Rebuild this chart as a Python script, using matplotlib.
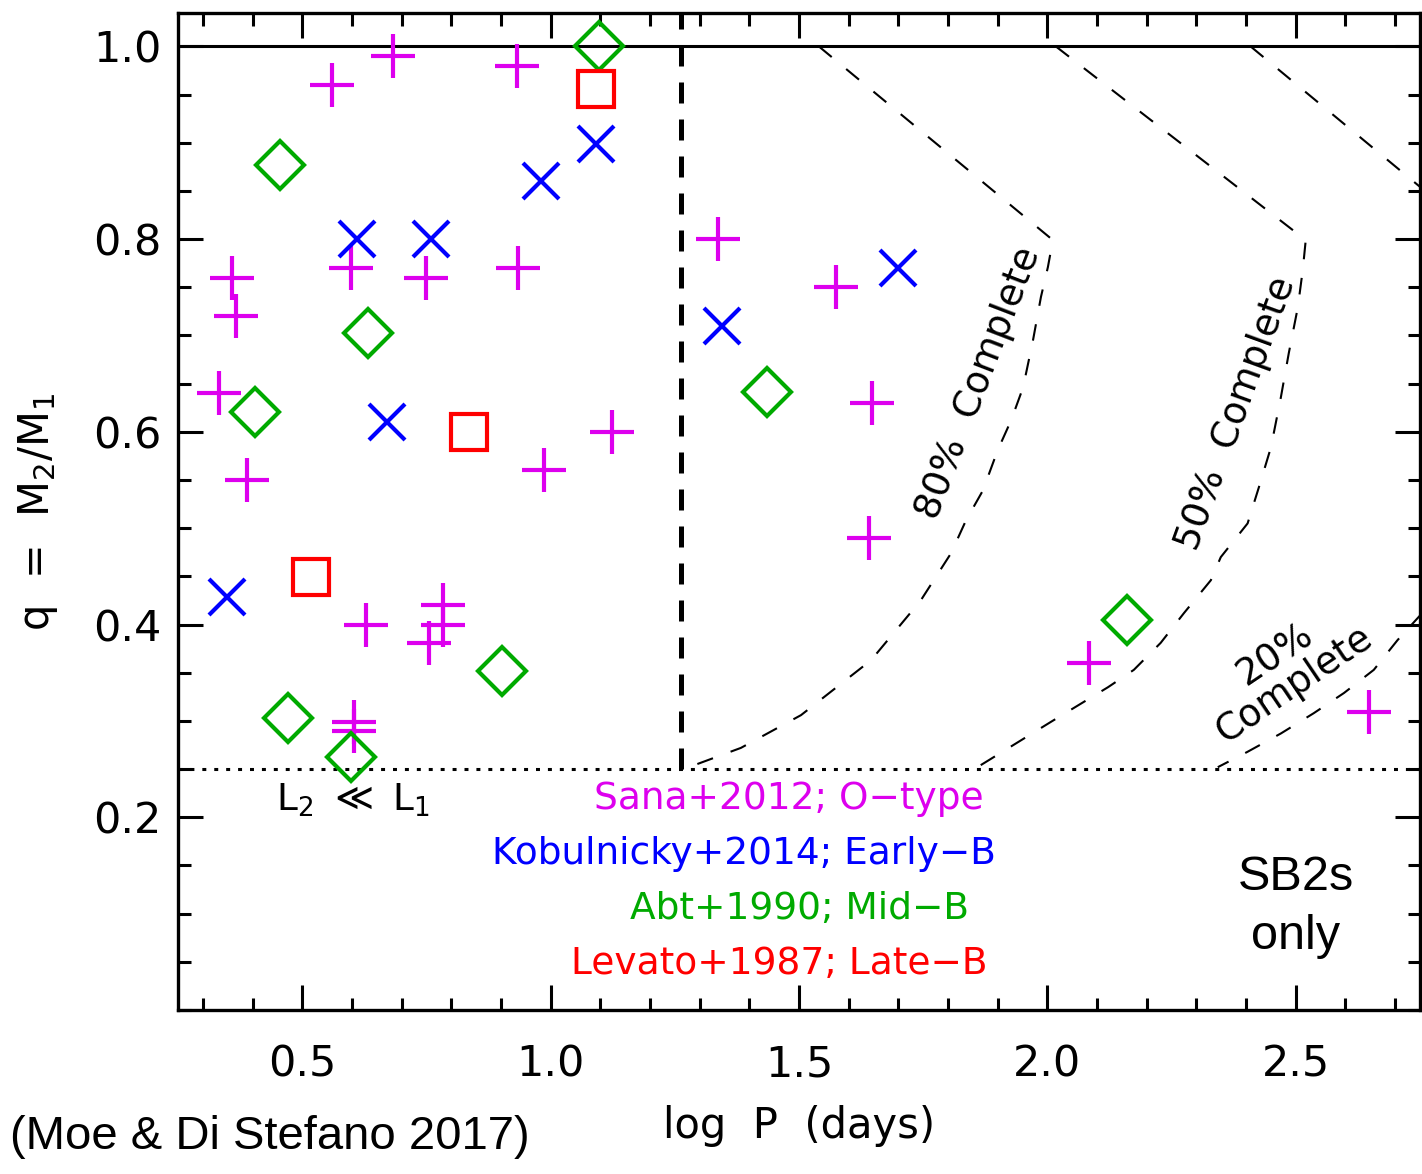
import matplotlib
matplotlib.use("Agg")
import matplotlib.pyplot as plt
from matplotlib.ticker import MultipleLocator
import numpy as np

plt.rcParams['font.family'] = ['DejaVu Sans']
plt.rcParams['mathtext.fontset'] = 'dejavusans'

# Sana+2012 (O-type), pluses
sana_logp = [0.560, 0.683, 0.933, 0.599, 0.749, 0.935, 0.359, 0.367, 0.333, 1.124,
             0.987, 0.389, 0.629, 0.784, 0.784, 0.756, 0.605, 0.605, 1.337, 1.574,
             1.647, 1.641, 2.083, 2.647]
sana_q = [0.960, 0.990, 0.980, 0.770, 0.760, 0.770, 0.760, 0.720, 0.640, 0.600,
          0.560, 0.550, 0.400, 0.420, 0.400, 0.381, 0.299, 0.290, 0.800, 0.750,
          0.630, 0.490, 0.360, 0.309]

# Kobulnicky+2014 (early-B), crosses
kob_logp = [1.092, 0.981, 0.611, 0.760, 0.671, 0.349, 1.345, 1.699]
kob_q = [0.899, 0.860, 0.800, 0.800, 0.610, 0.429, 0.710, 0.770]

# Abt+1990 (mid-B), diamonds
abt_logp = [1.098, 0.456, 0.633, 0.405, 0.902, 0.472, 0.599, 1.436, 2.160]
abt_q = [1.000, 0.877, 0.703, 0.621, 0.352, 0.303, 0.263, 0.641, 0.405]

# Levato+1987 (late-B), squares
lev_logp = [1.092, 0.836, 0.518]
lev_q = [0.956, 0.600, 0.449]

# completeness contours
c80_logp = [1.540, 2.011, 2.001, 1.987, 1.971, 1.951, 1.927, 1.900, 1.870, 1.836,
            1.806, 1.745, 1.645, 1.504, 1.383, 1.273]
c80_q = [1.000, 0.799, 0.771, 0.740, 0.695, 0.646, 0.612, 0.581, 0.539, 0.508,
         0.474, 0.425, 0.363, 0.306, 0.272, 0.251]
c50_logp = [2.017, 2.520, 2.514, 2.504, 2.486, 2.470, 2.450, 2.426, 2.403, 2.349,
            2.329, 2.275, 2.228, 2.174, 2.122, 2.007, 1.856]
c50_q = [1.000, 0.799, 0.768, 0.729, 0.682, 0.636, 0.584, 0.543, 0.505, 0.470,
         0.446, 0.412, 0.381, 0.353, 0.335, 0.299, 0.251]
c20_top_logp = [2.409, 2.760]
c20_top_q = [1.000, 0.850]
c20_bot_logp = [2.760, 2.705, 2.657, 2.597, 2.536, 2.470, 2.403, 2.343]
c20_bot_q = [0.415, 0.384, 0.353, 0.329, 0.308, 0.287, 0.268, 0.252]

logp_cut = 1.263
q_min = 0.25

magenta = '#DD00EE'
blue = '#0000FF'
green = '#00AA00'
red = '#FF0000'

fig = plt.figure(figsize=(14.22, 11.74), dpi=100)
ax = fig.add_axes([178 / 1422, 1 - 1010 / 1174, (1420 - 178) / 1422, (1010 - 12.7) / 1174])
ax.set_xlim(0.25, 2.75)
ax.set_ylim(0.0, 1.035)

# reference lines
ax.axhline(1.0, color='black', lw=2.2)
ax.axhline(q_min, color='black', lw=2.2, dashes=(1.3, 2.6))
ax.plot([logp_cut, logp_cut], [q_min, 1.035], color='black', lw=3.6, dashes=(4.2, 3.2))

thin = dict(color='black', lw=1.5, dashes=(8.0, 9.0))
ax.plot(c80_logp, c80_q, **thin)
ax.plot(c50_logp, c50_q, **thin)
ax.plot(c20_top_logp, c20_top_q, **thin)
ax.plot(c20_bot_logp, c20_bot_q, **thin)

# data
ax.plot(sana_logp, sana_q, '+', ms=32, mew=3, color=magenta, ls='none')
ax.plot(kob_logp, kob_q, 'x', ms=26, mew=3, color=blue, ls='none')
ax.plot(abt_logp, abt_q, 'D', ms=24, mew=3, mfc='none', color=green, ls='none')
ax.plot(lev_logp, lev_q, 's', ms=26, mew=3, mfc='none', color=red, ls='none')

# annotations
ax.text(1.862, 0.651, '80%  Complete', fontsize=27, rotation=69,
        ha='center', va='center', rotation_mode='anchor')
ax.text(2.381, 0.619, '50%  Complete', fontsize=27, rotation=70,
        ha='center', va='center', rotation_mode='anchor')
ax.text(2.478, 0.353, '20%\nComplete', fontsize=27, rotation=34,
        ha='center', va='center', multialignment='center', linespacing=1.0,
        rotation_mode='anchor')
ax.text(0.603, 0.218, r'L$_2$ $\ll$ L$_1$', fontsize=27, ha='center', va='center')

ax.text(1.480, 0.219, 'Sana+2012; O\u2212type', color=magenta, fontsize=27, ha='center', va='center')
ax.text(1.390, 0.162, 'Kobulnicky+2014; Early\u2212B', color=blue, fontsize=27, ha='center', va='center')
ax.text(1.500, 0.105, 'Abt+1990; Mid\u2212B', color=green, fontsize=27, ha='center', va='center')
ax.text(1.460, 0.048, 'Levato+1987; Late\u2212B', color=red, fontsize=27, ha='center', va='center')

ax.text(2.50, 0.107, 'SB2s\nonly', fontsize=35, family='Liberation Sans',
        ha='center', va='center', linespacing=1.4)

# axes styling
ax.xaxis.set_major_locator(MultipleLocator(0.5))
ax.xaxis.set_minor_locator(MultipleLocator(0.1))
ax.set_yticks([0.2, 0.4, 0.6, 0.8, 1.0])
ax.yaxis.set_minor_locator(MultipleLocator(0.05))
ax.xaxis.set_major_formatter(lambda v, p: f'{v:.1f}')
ax.yaxis.set_major_formatter(lambda v, p: f'{v:.1f}')
ax.tick_params(which='both', direction='in', top=True, right=True, width=2.2)
ax.tick_params(which='major', length=18)
ax.tick_params(which='minor', length=9)
ax.tick_params(axis='x', which='major', labelsize=31, pad=24)
ax.tick_params(axis='y', which='major', labelsize=31, pad=12)
for s in ax.spines.values():
    s.set_linewidth(2.4)

ax.set_xlabel('log  P  (days)', fontsize=30, labelpad=14)
ax.set_ylabel(r'q  =  M$_2$/M$_1$', fontsize=30, labelpad=24)

fig.text(10 / 1422, 1 - 1137 / 1174, '(Moe & Di Stefano 2017)', fontsize=34,
         family='Liberation Sans', ha='left', va='center')

fig.savefig('out.png', dpi=100)
